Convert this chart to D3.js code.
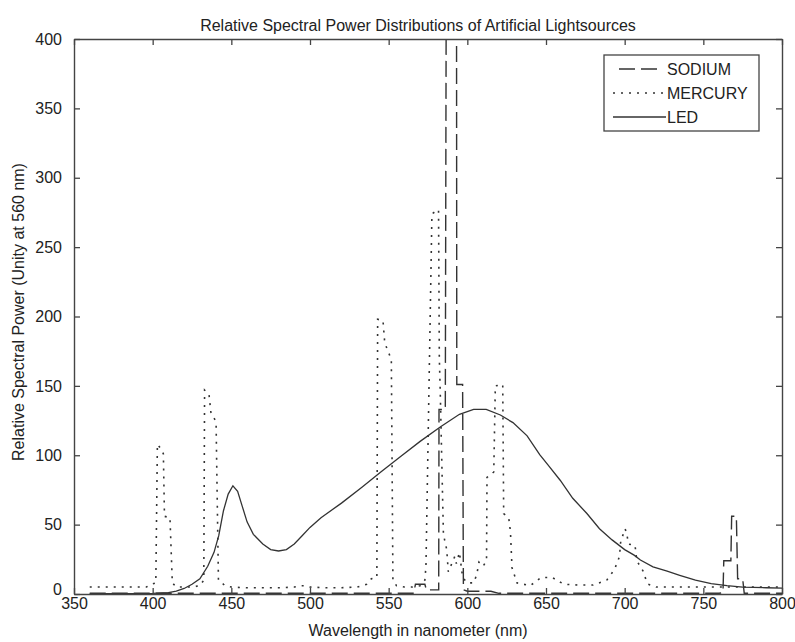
<!DOCTYPE html>
<html><head><meta charset="utf-8">
<script src="https://cdn.jsdelivr.net/npm/d3@7"></script>
<style>
body{margin:0;background:#fff}
text{font-family:"Liberation Sans",Arial,sans-serif;fill:#222}
</style>
</head><body>
<svg id="chart" width="795" height="642"></svg>
<script>
const titleText = "Relative Spectral Power Distributions of Artificial Lightsources";
const xLabelText = "Wavelength in nanometer (nm)";
const yLabelText = "Relative Spectral Power (Unity at 560 nm)";
const xTicks = [350,400,450,500,550,600,650,700,750,800];
const yTicks = [0,50,100,150,200,250,300,350,400];
const seriesNames = ["SODIUM","MERCURY","LED"];

const sodiumNm  = [360,400,450,500,550,566,567,573,574,581.8,582,586,587,593,593.3,597,597.5,600,615,620,700,760,762.5,763,767.5,768,771,771.8,775,776,800];
const sodiumVal = [0.5,0.5,0.5,0.5,0.5,0.5,7,7,3,3,133,133,650,650,151,151,3,2,2,0.5,0.5,0.5,1,24,24,56,56,11,11,0.5,0.5];

const mercuryNm  = [360,370,380,390,396,399,402,403,405.7,406.8,407.5,411,412.5,415,425,430,432.5,433,435.8,437,440.3,441.8,446,450,460,470,480,490,494,497,500,510,520,530,536,539,542.5,543,546.4,547.5,551.7,552.7,555,560,565,570,573,573.7,577.5,581.7,582.2,582.8,584.8,586.9,587.9,592,593,595,597,600,604,606,607.4,610,612.2,612.5,616.8,617.8,622.5,623.1,626.3,627.4,628.4,631.5,640,646.8,654,658,662,670,680,688.6,691.8,694,696.7,697.5,700.3,701.4,702.4,706.6,707.7,712,713.6,715,720,730,740,750,760,770,780,790,800];
const mercuryVal = [5,5,5,5,5,7,8,108,104,101,56,55,8,5,5,6,10,147,144,131,124,10,6,5,4.5,4.5,4.5,5,6,6,5,4.5,4.5,5,7,11,12,198,197,181,169,10,6,5,5,6,10,20,274,277,170,145,43,32,16,27,22,30,12,8,8,14,23,20,24,84,88,150,151,58,55,45,19,8,6,11.8,12,9,7,6.5,6.5,10,15,19,27,38,47,43,36,35,24,16,10,7,5,5,5,5,5,5,5,5,5];

const ledNm  = [360,380,400,410,415,420,425,430,435,439,442,445,448,451,454,457,460,464,470,475,480,485,490,495,500,507,520,533,545,558,570,583,595,604,612,621,629,638,646,652,659,667,676,684,692,700,706,710,718,727,735,745,755,765,775,790,800];
const ledVal = [0.3,0.3,0.5,1,2,4,7,11,20,30,42,60,72,78,74,63,52,43,36,32,31,32,36,42,48,55,65.5,77,88,99.5,110,120.5,129.5,133,133,129,123.5,114,100.5,92,82,69,58,47,39,32,28,24.5,19.5,16.5,13.5,10,7.5,6,5,4.5,4.3];

const L = 74, R = 782, T = 39, B = 594;
const svg = d3.select("#chart");
const x = d3.scaleLinear().domain([350,800]).range([L,R]);
const y = d3.scaleLinear().domain([0,400]).range([B,T]);
const ink = "#333";

svg.append("defs").append("clipPath").attr("id","clip")
  .append("rect").attr("x",L).attr("y",T).attr("width",R-L).attr("height",B-T);

function zip(a,b){ return a.map((v,i)=>({nm:v,v:b[i]})); }
const line = d3.line().x(d=>x(d.nm)).y(d=>y(d.v));
const plot = svg.append("g").attr("clip-path","url(#clip)");

const styles = [
  {name:seriesNames[0], data:zip(sodiumNm,sodiumVal), dash:"16,6", w:1.4, lx1:619, lx2:657},
  {name:seriesNames[1], data:zip(mercuryNm,mercuryVal), dash:"2,6", w:1.6, lx1:613, lx2:665},
  {name:seriesNames[2], data:zip(ledNm,ledVal), dash:null, w:1.3, lx1:613, lx2:666}
];
styles.forEach(s=>{
  plot.append("path").attr("d",line(s.data)).attr("fill","none")
    .attr("stroke",ink).attr("stroke-width",s.w)
    .attr("stroke-dasharray",s.dash);
});

function styleAxis(g){
  g.selectAll("path.domain").attr("stroke","#444").attr("stroke-width",1.4);
  g.selectAll(".tick line").attr("stroke","#444").attr("stroke-width",1.3);
  g.selectAll("text").attr("font-size",16).attr("fill","#222")
    .attr("font-family","'Liberation Sans',Arial,sans-serif");
}
svg.append("g").attr("transform",`translate(0,${B})`)
  .call(d3.axisBottom(x).tickValues(xTicks).tickSizeInner(-6).tickSizeOuter(0).tickPadding(4))
  .call(styleAxis);
svg.append("g").attr("transform",`translate(0,${T})`)
  .call(d3.axisTop(x).tickValues(xTicks).tickSizeInner(-6).tickSizeOuter(0).tickFormat(""))
  .call(styleAxis);
const yAxisG = svg.append("g").attr("transform",`translate(${L},0)`)
  .call(d3.axisLeft(y).tickValues(yTicks).tickSizeInner(-6).tickSizeOuter(0).tickPadding(12))
  .call(styleAxis);
yAxisG.selectAll(".tick").filter(d=>d===0).select("text").attr("dy","0.05em");
svg.append("g").attr("transform",`translate(${R},0)`)
  .call(d3.axisRight(y).tickValues(yTicks).tickSizeInner(-6).tickSizeOuter(0).tickFormat(""))
  .call(styleAxis);

svg.append("text").attr("x",418).attr("y",31).attr("text-anchor","middle")
  .attr("font-size",16).text(titleText);
svg.append("text").attr("x",418).attr("y",636).attr("text-anchor","middle")
  .attr("font-size",16).text(xLabelText);
svg.append("text").attr("transform","translate(24,312) rotate(-90)")
  .attr("text-anchor","middle").attr("font-size",16).text(yLabelText);

const lg = svg.append("g");
lg.append("rect").attr("x",604).attr("y",55).attr("width",155).attr("height",76)
  .attr("fill","#fff").attr("stroke","#444").attr("stroke-width",1.3);
styles.forEach((s,i)=>{
  const yy = 69 + i*24;
  lg.append("line").attr("x1",s.lx1).attr("x2",s.lx2).attr("y1",yy).attr("y2",yy)
    .attr("stroke",ink).attr("stroke-width",s.w).attr("stroke-dasharray",s.dash);
  lg.append("text").attr("x",667).attr("y",yy).attr("dy","0.36em")
    .attr("font-size",16).text(s.name);
});
</script>
</body></html>
